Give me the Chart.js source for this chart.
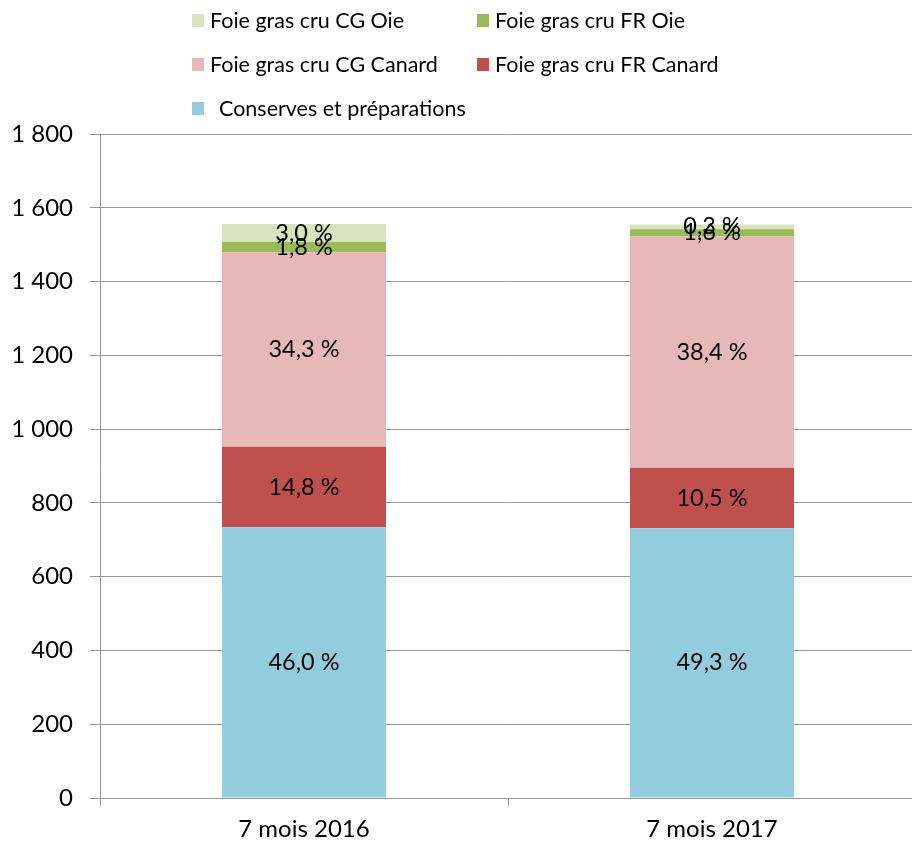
<!DOCTYPE html>
<html>
<head>
<meta charset="utf-8">
<script src="https://cdn.jsdelivr.net/npm/chart.js@4"></script>
<style>
  html, body { margin: 0; padding: 0; background: #fff; overflow: hidden; }
  #wrap { position: relative; width: 912px; height: 842px; overflow: hidden; font-family: Lato, "Open Sans", sans-serif; }
  #legend {
    position: absolute; left: 192px; top: 8px;
    display: grid; grid-template-columns: 285px 260px; row-gap: 20px;
    font-size: 21.5px; color: #000;
  }
  .lg-item { display: flex; align-items: center; height: 24px; white-space: nowrap; }
  .lg-box { width: 12px; height: 13px; margin-right: 6px; }
  .lg-item:last-child .lg-box { margin-right: 15px; }
</style>
</head>
<body>
<div id="wrap">
  <canvas id="chart" width="916" height="842"></canvas>
  <div id="legend"></div>
</div>
<script>
'use strict';

// categories and y ticks
const categories = ['7 mois 2016', '7 mois 2017'];
const yMax = 1800;
const yStep = 200;

// series values (stacked, bottom to top)
const conserves = [734, 731];
const frCanard  = [218, 164];
const cgCanard  = [527, 627];
const frOie     = [28, 20];
const cgOie     = [49, 13];

// percentage labels shown inside the segments
const conservesPct = ['46,0 %', '49,3 %'];
const frCanardPct  = ['14,8 %', '10,5 %'];
const cgCanardPct  = ['34,3 %', '38,4 %'];
const frOiePct     = ['1,8 %', '1,6 %'];
const cgOiePct     = ['3,0 %', '0,3 %'];

const seriesNames = [
  'Conserves et préparations',
  'Foie gras cru FR Canard',
  'Foie gras cru CG Canard',
  'Foie gras cru FR Oie',
  'Foie gras cru CG Oie',
];
const seriesColors = ['#93CDDD', '#C0504D', '#E6B9B8', '#9BBB59', '#D7E4BD'];

const FONT = 'Lato, "Open Sans", sans-serif';
const AXIS = '#979797';

const datasets = [
  { label: seriesNames[0], data: conserves, pct: conservesPct },
  { label: seriesNames[1], data: frCanard,  pct: frCanardPct },
  { label: seriesNames[2], data: cgCanard,  pct: cgCanardPct },
  { label: seriesNames[3], data: frOie,     pct: frOiePct },
  { label: seriesNames[4], data: cgOie,     pct: cgOiePct },
].map((d, i) => ({
  ...d,
  backgroundColor: seriesColors[i],
  borderWidth: 0,
  barPercentage: 0.402,
  categoryPercentage: 1,
}));

// labels centered in each stacked segment
const segLabels = {
  id: 'segLabels',
  afterDatasetsDraw(chart) {
    const ctx = chart.ctx;
    ctx.save();
    ctx.font = '23.5px ' + FONT;
    ctx.fillStyle = '#000';
    ctx.textAlign = 'center';
    ctx.textBaseline = 'middle';
    chart.data.datasets.forEach((ds, i) => {
      chart.getDatasetMeta(i).data.forEach((bar, j) => {
        const p = bar.getCenterPoint();
        ctx.fillText(ds.pct[j], p.x, p.y);
      });
    });
    ctx.restore();
  }
};

const fmt = v => String(v).replace(/\B(?=(\d{3})+(?!\d))/g, ' ');

new Chart(document.getElementById('chart'), {
  type: 'bar',
  data: { labels: categories, datasets },
  options: {
    responsive: false,
    animation: false,
    layout: { padding: { top: 134, right: 0, left: 0, bottom: 0 } },
    plugins: { legend: { display: false }, tooltip: { enabled: false } },
    scales: {
      x: {
        stacked: true,
        grid: { display: true, drawOnChartArea: false, drawTicks: true, tickLength: 8, color: AXIS, offset: true },
        border: { display: true, color: AXIS },
        ticks: { color: '#000', font: { family: FONT, size: 24 }, padding: 9 },
        afterFit: s => { s.height = 44; }
      },
      y: {
        stacked: true,
        min: 0, max: yMax,
        grid: { color: AXIS, tickLength: 10 },
        border: { display: true, color: AXIS },
        ticks: { stepSize: yStep, color: '#000', font: { family: FONT, size: 24 }, padding: 17, callback: v => fmt(v) },
        afterFit: s => { s.width = 100; }
      }
    }
  },
  plugins: [segLabels]
});

// legend in the layout of the original: two columns, top series first
const legend = document.getElementById('legend');
datasets.slice().reverse().forEach(ds => {
  const it = document.createElement('div');
  it.className = 'lg-item';
  it.innerHTML = `<span class="lg-box" style="background:${ds.backgroundColor}"></span><span>${ds.label}</span>`;
  legend.appendChild(it);
});
</script>
</body>
</html>
